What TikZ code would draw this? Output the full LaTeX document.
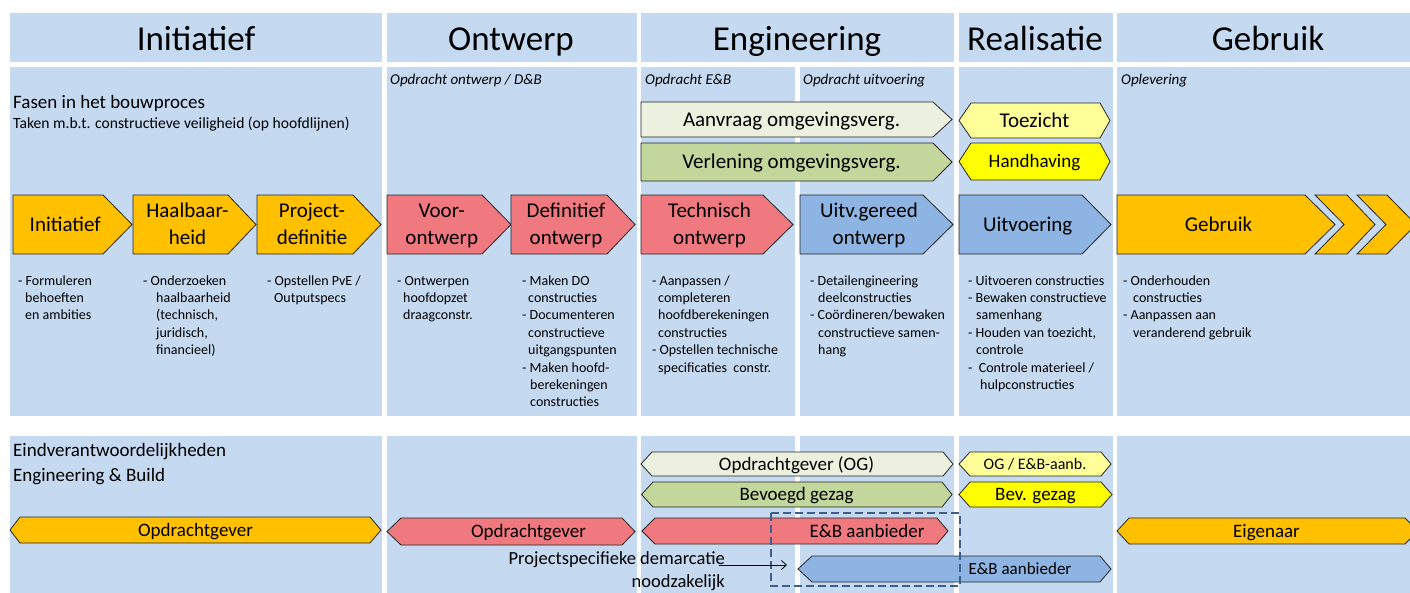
\documentclass[tikz,border=0pt]{standalone}
\usepackage{fontspec}
\setmainfont{Carlito}
\usetikzlibrary{arrows.meta}

\definecolor{panel}{HTML}{C5D9F1}
\definecolor{phOrange}{HTML}{FFC000}
\definecolor{phRed}{HTML}{F0787F}
\definecolor{phBlue}{HTML}{8DB4E2}
\definecolor{phPale}{HTML}{EBF1DE}
\definecolor{phGreen}{HTML}{C3D69B}
\definecolor{phLemon}{HTML}{FFFF99}
\definecolor{phYellow}{HTML}{FFFF00}
\definecolor{outline}{HTML}{262626}
\definecolor{demarc}{HTML}{3F5E8C}

% first line: only cap height counts; later lines: no height/depth
\newcommand{\firstln}[1]{\vrule height .632em depth 0pt width 0pt\smash{#1}}
\newcommand{\lastln}[1]{\smash{#1}}

% right-pointing pentagon: left, slope start, tip, top, bottom, colour
\newcommand{\homeplate}[6]{%
  \path[shapeedge, fill=#6] (#1,#4) -- (#2,#4) -- (#3,{(#4+#5)/2}) -- (#2,#5) -- (#1,#5) -- cycle;}
% double pointed bar: left point, left corner, right corner, right point, top, bottom, colour
\newcommand{\hexbar}[7]{%
  \path[shapeedge, fill=#7] (#1,{(#5+#6)/2}) -- (#2,#5) -- (#3,#5) -- (#4,{(#5+#6)/2}) -- (#3,#6) -- (#2,#6) -- cycle;}

\begin{document}
\begin{tikzpicture}[x=1pt,y=-1pt,
  shapeedge/.style={draw=outline, line width=0.8pt, line join=miter},
  hdr/.style={font=\fontsize{35}{42}\selectfont, inner sep=0pt},
  phase/.style={font=\fontsize{21}{27}\selectfont, align=center, inner sep=0pt},
  task/.style={font=\fontsize{14}{17.4}\selectfont, align=left, inner sep=0pt, anchor=north west},
  tag/.style={font=\fontsize{15}{18}\selectfont\itshape, inner sep=0pt, anchor=base west},
  lead/.style={font=\fontsize{19}{23}\selectfont, inner sep=0pt, anchor=base west},
  bar/.style={font=\fontsize{19}{23}\selectfont, inner sep=0pt},
]
\useasboundingbox (0,0) rectangle (1410,592);
\fill[white] (0,0) rectangle (1410,592);
\clip (0,0) rectangle (1410,592);

% ---- column panels ----
\foreach \l/\r in {10/382,387/637,641/954,959/1113,1117/1420}
  \fill[panel] (\l,13) rectangle (\r,62);
\foreach \l/\r in {10/382,387/637,641/795,800/954,959/1113,1117/1420}{
  \fill[panel] (\l,67) rectangle (\r,416);
  \fill[panel] (\l,436) rectangle (\r,600);
}

% ---- phase headers ----
\node[hdr] (hInit) at (196,39) {\firstln{Initiatief}};
\node[hdr] (hOntw) at (511,39) {\firstln{Ontwerp}};
\node[hdr] (hEng)  at (797,39) {\firstln{Engineering}};
\node[hdr] (hReal) at (1035,39) {\firstln{Realisatie}};
\node[hdr] (hGebr) at (1268,39) {\firstln{Gebruik}};

% ---- middle band headings ----
\node[lead] (fasen) at (13,108) {Fasen in het bouwproces};
\node[font=\fontsize{15.6}{18}\selectfont, inner sep=0pt, anchor=base west] (taken) at (13,128.3)
  {Taken m.b.t. constructieve veiligheid (op hoofdlijnen)};
\node[tag] (tOntw) at (390,84) {Opdracht ontwerp / D\&B};
\node[tag] (tEB)   at (645,84) {Opdracht E\&B};
\node[tag] (tUitv) at (803,84) {Opdracht uitvoering};
\node[tag] (tOpl)  at (1121,84) {Oplevering};

% ---- permit / supervision bars ----
\homeplate{641}{933}{952}{102}{137}{phPale}
\node[phase] (aanvraag) at (791.5,119.5) {\firstln{Aanvraag omgevingsverg.}};
\homeplate{641}{933}{952}{143}{181}{phGreen}
\node[phase] (verlening) at (791.5,162) {\firstln{Verlening omgevingsverg.}};
\hexbar{959}{971}{1100}{1110}{103}{138}{phLemon}
\node[phase] (toezicht) at (1034.5,120.5) {\firstln{Toezicht}};
\hexbar{959}{971}{1100}{1110}{143}{180}{phYellow}
\node[phase, font=\fontsize{19}{23}\selectfont] (handhaving) at (1034.5,161.5) {\firstln{Handhaving}};

% ---- process steps ----
\homeplate{13}{103}{132}{195}{254}{phOrange}
\node[phase] (pInit) at (65.25,224.5) {\firstln{Initiatief}};
\homeplate{133}{228}{256}{195}{254}{phOrange}
\node[phase] (pHaal) at (187.5,224.5) {\firstln{Haalbaar-}\\\lastln{heid}};
\homeplate{257}{353}{381}{195}{254}{phOrange}
\node[phase] (pProj) at (312,224.5) {\firstln{Project-}\\\lastln{definitie}};
\homeplate{387}{482}{511}{195}{254}{phRed}
\node[phase] (pVO) at (441.75,224.5) {\firstln{Voor-}\\\lastln{ontwerp}};
\homeplate{511}{607}{635}{195}{254}{phRed}
\node[phase] (pDO) at (566,224.5) {\firstln{Definitief}\\\lastln{ontwerp}};
\homeplate{641}{763}{793}{195}{254}{phRed}
\node[phase] (pTO) at (709.5,224.5) {\firstln{Technisch}\\\lastln{ontwerp}};
\homeplate{800}{923}{953}{195}{254}{phBlue}
\node[phase] (pUGO) at (869,224.5) {\firstln{Uitv.gereed}\\\lastln{ontwerp}};
\homeplate{959}{1082}{1111}{195}{254}{phBlue}
\node[phase] (pUitv) at (1027.75,224.5) {\firstln{Uitvoering}};
\homeplate{1117}{1305}{1335}{195}{254}{phOrange}
\node[phase] (pGebr) at (1218.5,224.5) {\firstln{Gebruik}};
\path[shapeedge, fill=phOrange] (1315,195) -- (1347,195) -- (1375,224.5) -- (1347,254) -- (1315,254) -- (1344,224.5) -- cycle;
\path[shapeedge, fill=phOrange] (1357,195) -- (1387,195) -- (1416,224.5) -- (1387,254) -- (1357,254) -- (1386,224.5) -- cycle;

% ---- tasks per step ----
\node[task] (kInit) at (18,276) {\firstln{- Formuleren}\\\hspace*{7pt}behoeften\\\hspace*{7pt}en ambities};
\node[task] (kHaal) at (143,276) {\firstln{- Onderzoeken}\\\hspace*{13pt}haalbaarheid\\\hspace*{13pt}(technisch,\\\hspace*{13pt}juridisch,\\\hspace*{13pt}financieel)};
\node[task] (kProj) at (267,276) {\firstln{- Opstellen PvE /}\\\hspace*{7pt}Outputspecs};
\node[task] (kVO) at (397,276) {\firstln{- Ontwerpen}\\\hspace*{6pt}hoofdopzet\\\hspace*{6pt}draagconstr.};
\node[task] (kDO) at (522,276) {\firstln{- Maken DO}\\\hspace*{6pt}constructies\\- Documenteren\\\hspace*{6pt}constructieve\\\hspace*{6pt}uitgangspunten\\- Maken hoofd-\\\hspace*{8pt}berekeningen\\\hspace*{8pt}constructies};
\node[task] (kTO) at (652,276) {\firstln{- Aanpassen /}\\\hspace*{6pt}completeren\\\hspace*{6pt}hoofdberekeningen\\\hspace*{6pt}constructies\\- Opstellen technische\\\hspace*{6pt}specificaties\ \ constr.};
\node[task] (kUGO) at (810,276) {\firstln{- Detailengineering}\\\hspace*{8pt}deelconstructies\\- Coördineren/bewaken\\\hspace*{8pt}constructieve samen-\\\hspace*{8pt}hang};
\node[task] (kUitv) at (968,276) {\firstln{- Uitvoeren constructies}\\- Bewaken constructieve\\\hspace*{8pt}samenhang\\- Houden van toezicht,\\\hspace*{8pt}controle\\-\ \ Controle materieel /\\\hspace*{12pt}hulpconstructies};
\node[task] (kGebr) at (1123,276) {\firstln{- Onderhouden}\\\hspace*{10pt}constructies\\- Aanpassen aan\\\hspace*{10pt}veranderend gebruik};

% ---- final responsibilities ----
\node[lead] (eind) at (13,456) {Eindverantwoordelijkheden};
\node[lead] (engb) at (13,481) {Engineering \& Build};

\hexbar{10}{20}{370}{381}{517}{543}{phOrange}
\node[bar] (rInit) at (195.5,530) {\firstln{Opdrachtgever}};
\hexbar{387}{401}{622}{635}{518}{545}{phRed}
\node[bar] (rOntw) at (528.5,531.5) {\firstln{Opdrachtgever}};
\hexbar{641}{652}{943}{953}{452}{476}{phPale}
\node[bar] (rOG) at (796.5,464) {\firstln{Opdrachtgever (OG)}};
\hexbar{641.5}{653}{942}{952}{482}{507}{phGreen}
\node[bar] (rBG) at (796.5,494.5) {\firstln{Bevoegd gezag}};
\hexbar{642}{655}{937}{948}{518}{544}{phRed}
\node[bar] (rEB) at (867,531) {\firstln{E\&B aanbieder}};
\hexbar{959}{970}{1101}{1111}{452}{476}{phLemon}
\node[bar, font=\fontsize{16}{20}\selectfont] (rOGEB) at (1035,464) {\firstln{OG / E\&B-aanb.}};
\hexbar{959}{970}{1101}{1112}{482}{507}{phYellow}
\node[bar] (rBev) at (1035.5,494.5) {\firstln{Bev. gezag}};
\hexbar{1117}{1129}{1405}{1418}{518}{544}{phOrange}
\node[bar] (rEig) at (1266.5,531) {\firstln{Eigenaar}};
\hexbar{798}{812}{1100}{1111}{556}{582}{phBlue}
\node[bar, font=\fontsize{17}{21}\selectfont] (rEBu) at (1020,569) {\firstln{E\&B aanbieder}};

% ---- demarcation ----
\draw[demarc, line width=2.2pt, dash pattern=on 8pt off 4pt] (771,513) rectangle (960,586);
\node[font=\fontsize{18.5}{23.7}\selectfont, align=right, inner sep=0pt, anchor=north east] (demtext)
  at (725,552.3) {\firstln{Projectspecifieke demarcatie}\\noodzakelijk};
\coordinate (arrS) at (719,565);
\coordinate (arrE) at (787,565);
\draw[-{Straight Barb[length=5pt,width=9pt]}, line width=0.8pt] (arrS) -- (arrE);
\end{tikzpicture}
\end{document}
